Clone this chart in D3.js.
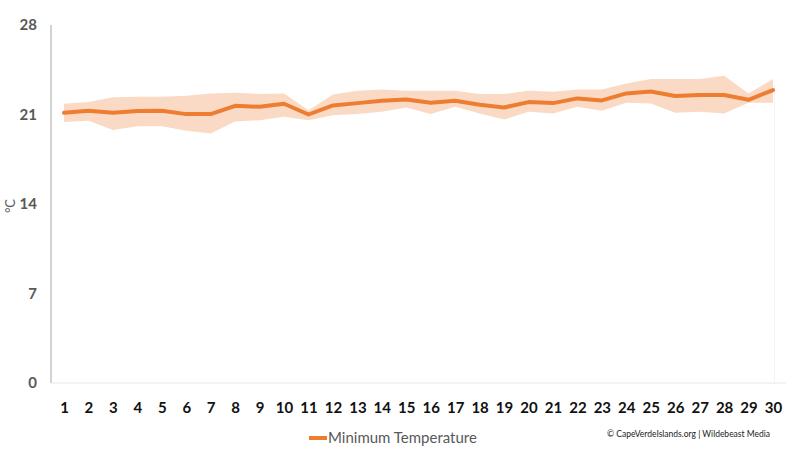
<!DOCTYPE html>
<html><head><meta charset="utf-8">
<script src="https://cdn.jsdelivr.net/npm/d3@7"></script>
<style>body{margin:0;background:#fff}svg{display:block}</style>
</head><body>
<svg id="c" width="800" height="450"></svg>
<script>
const days = d3.range(1, 31);
const minTemp = [21.13,21.29,21.13,21.27,21.29,21.03,21.03,21.68,21.6,21.84,21.0,21.71,21.89,22.07,22.18,21.92,22.07,21.76,21.55,21.97,21.89,22.26,22.1,22.65,22.8,22.44,22.52,22.52,22.15,22.91];
const bandHigh = [21.84,21.97,22.34,22.39,22.39,22.47,22.65,22.7,22.6,22.65,21.34,22.57,22.86,22.96,22.86,22.86,22.86,22.6,22.6,22.86,22.78,22.96,22.96,23.43,23.77,23.77,23.77,24.03,22.65,23.77];
const bandLow = [20.41,20.51,19.78,20.09,20.09,19.73,19.52,20.46,20.56,20.82,20.56,20.95,21.03,21.21,21.55,21.03,21.6,21.08,20.61,21.21,21.08,21.6,21.29,21.92,21.86,21.13,21.21,21.08,21.92,21.92];
const yTicks = [0,7,14,21,28];

const svg = d3.select("#c");
const font = "Lato, 'Open Sans', sans-serif";
const x = d3.scalePoint().domain(days).range([64, 773]);
const y = d3.scaleLinear().domain([0, 28]).range([383, 25]);

// axes lines
svg.append("line").attr("x1",51).attr("x2",51).attr("y1",25).attr("y2",383).attr("stroke","#a6a6a6").attr("stroke-width",1);
svg.append("line").attr("x1",51).attr("x2",786).attr("y1",383).attr("y2",383).attr("stroke","#e6e6e6").attr("stroke-width",1);
svg.append("line").attr("x1",774.5).attr("x2",774.5).attr("y1",85).attr("y2",383).attr("stroke","#f7f2ee").attr("stroke-width",1);

// y tick labels
const yAxis = d3.axisLeft(y).tickValues(yTicks).tickSize(0).tickPadding(0);
const ya = svg.append("g").attr("transform","translate(37,0)").call(yAxis);
ya.select(".domain").remove();
ya.selectAll("text").attr("font-family",font).attr("font-size",15).attr("font-weight","bold").attr("fill","#595959");

// x tick labels
const xAxis = d3.axisBottom(x).tickSize(0).tickPadding(0);
const xa = svg.append("g").attr("transform","translate(0,402)").call(xAxis);
xa.select(".domain").remove();
xa.selectAll("text").attr("font-family",font).attr("font-size",15).attr("font-weight","bold").attr("fill","#111");

// unit label
svg.append("text").attr("transform","translate(15,206) rotate(-90)").attr("text-anchor","middle")
  .attr("font-family",font).attr("font-size",13).attr("fill","#595959").text("°C");

// band
const area = d3.area().x((d,i)=>x(days[i])).y0((d,i)=>y(bandLow[i])).y1((d,i)=>y(bandHigh[i]));
svg.append("path").datum(days).attr("d",area).attr("fill","#f9d3bb").attr("opacity",0.85);

// line
const line = d3.line().x((d,i)=>x(days[i])).y(d=>y(d));
svg.append("path").datum(minTemp).attr("d",line).attr("fill","none").attr("stroke","#ed7d31").attr("stroke-width",4).attr("stroke-linejoin","round").attr("stroke-linecap","round");

// legend
svg.append("line").attr("x1",309).attr("x2",327).attr("y1",438).attr("y2",438).attr("stroke","#ed7d31").attr("stroke-width",4);
svg.append("text").attr("x",328).attr("y",443).attr("font-family",font).attr("font-size",15).attr("fill","#595959").text("Minimum Temperature");

// credit
svg.append("text").attr("x",607).attr("y",437).attr("font-family",font).attr("font-size",8.5).attr("textLength",163).attr("lengthAdjust","spacingAndGlyphs").attr("fill","#222").text("© CapeVerdeIslands.org | Wildebeast Media");
</script>
</body></html>
